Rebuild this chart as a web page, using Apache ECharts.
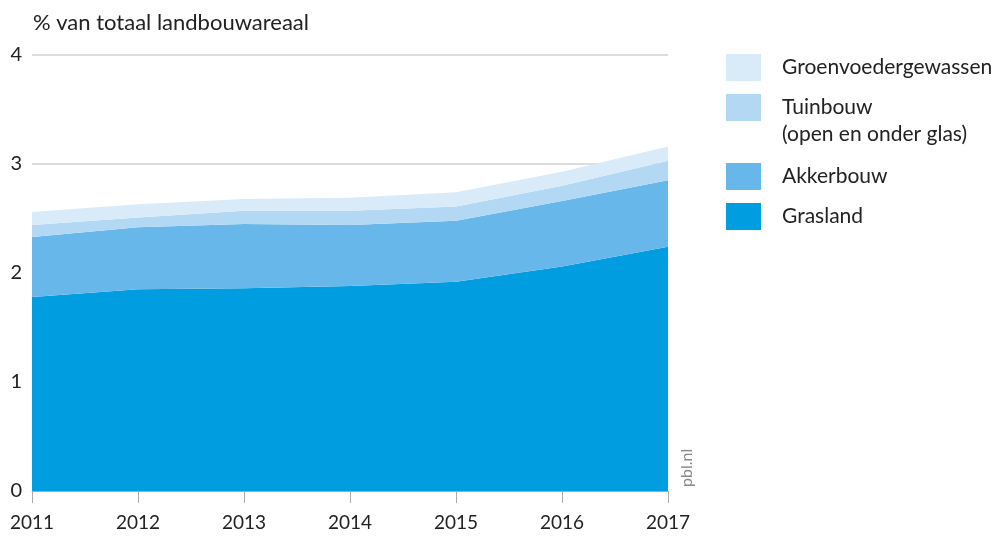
<!DOCTYPE html>
<html>
<head>
<meta charset="utf-8">
<script src="https://cdn.jsdelivr.net/npm/echarts@6/dist/echarts.min.js"></script>
<style>
  html, body { margin: 0; padding: 0; background: #fff; }
  #chart { width: 1000px; height: 536px; }
</style>
</head>
<body>
<div id="chart"></div>
<script>
const years = ['2011', '2012', '2013', '2014', '2015', '2016', '2017'];
const grasland = [1.78, 1.85, 1.86, 1.88, 1.92, 2.06, 2.24];
const akkerbouw = [0.55, 0.57, 0.59, 0.56, 0.56, 0.60, 0.61];
const tuinbouw = [0.11, 0.09, 0.12, 0.13, 0.13, 0.14, 0.18];
const groenvoeder = [0.12, 0.12, 0.11, 0.12, 0.13, 0.13, 0.13];

const FONT = 'Lato';
const TEXT = '#222';

const chart = echarts.init(document.getElementById('chart'));

function area(name, data, color) {
  return {
    name: name,
    type: 'line',
    stack: 'total',
    data: data,
    symbol: 'none',
    lineStyle: { width: 0 },
    itemStyle: { color: color },
    areaStyle: { color: color, opacity: 1 },
  };
}

function legendItem(name, top) {
  return {
    data: [{ name: name, icon: 'rect' }],
    left: 726,
    top: top,
    padding: 0,
    itemWidth: 35,
    itemHeight: 27,
    itemGap: 0,
    selectedMode: false,
    textStyle: { fontFamily: FONT, fontSize: 21, color: TEXT, padding: [0, 0, 0, 16] },
  };
}

chart.setOption({
  animation: false,
  textStyle: { fontFamily: FONT },
  grid: { left: 32, right: 332, top: 55, bottom: 45 },
  legend: [
    legendItem('Groenvoedergewassen', 54),
    legendItem('Tuinbouw', 94),
    legendItem('Akkerbouw', 163),
    legendItem('Grasland', 203),
  ],
  graphic: [
    {
      type: 'text',
      left: 33,
      top: 12,
      style: { text: '% van totaal landbouwareaal', font: '22px ' + FONT, fill: TEXT },
    },
    {
      type: 'text',
      left: 782,
      top: 124,
      style: { text: '(open en onder glas)', font: '21px ' + FONT, fill: TEXT },
    },
    {
      type: 'text',
      x: 679,
      y: 487,
      rotation: Math.PI / 2,
      style: { text: 'pbl.nl', font: '16px ' + FONT, fill: '#888', align: 'left', verticalAlign: 'top' },
    },
  ],
  xAxis: {
    type: 'category',
    data: years,
    boundaryGap: false,
    axisLine: { lineStyle: { color: '#aaa', width: 1 } },
    axisTick: { show: true, length: 12, lineStyle: { color: '#aaa' } },
    axisLabel: { fontFamily: FONT, fontSize: 19, color: TEXT, margin: 22 },
    splitLine: { show: false },
  },
  yAxis: {
    type: 'value',
    min: 0,
    max: 4,
    interval: 1,
    axisLine: { show: false },
    axisTick: { show: false },
    axisLabel: { fontFamily: FONT, fontSize: 20, color: TEXT, margin: 10 },
    splitLine: { lineStyle: { color: '#ddd', width: 2 } },
  },
  series: [
    area('Grasland', grasland, '#009ee0'),
    area('Akkerbouw', akkerbouw, '#67b7ea'),
    area('Tuinbouw', tuinbouw, '#b3d8f4'),
    area('Groenvoedergewassen', groenvoeder, '#d9ebf9'),
  ],
});
</script>
</body>
</html>
